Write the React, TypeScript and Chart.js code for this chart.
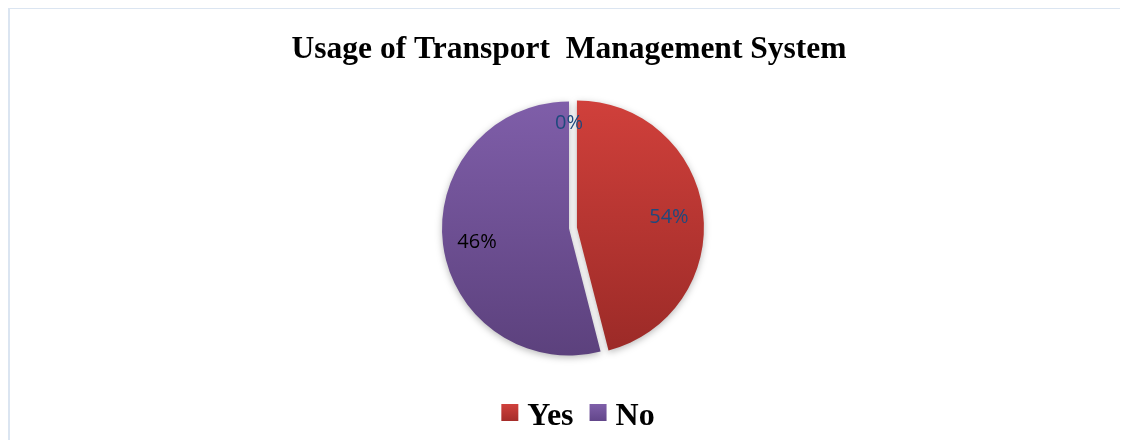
import React, { useEffect, useRef } from "react";
import { Chart, registerables } from "chart.js";

Chart.register(...registerables);

const categories = ["Yes", "No", ""];
const sliceValues = [46, 54, 0];
const dataLabels = ["54%", "46%", "0%"];
const labelColors = ["#1f497d", "#000000", "#1f497d"];
const colorsTop = ["#d0403b", "#7f5ea9", "#4f81bd"];
const colorsBottom = ["#9b2a27", "#5c417d", "#4f81bd"];
const legendTop = ["#d0413c", "#7f5fa9"];
const legendBottom = ["#a52d2a", "#62468a"];
const titleText = "Usage of Transport  Management System";

// styling: how far each slice is pulled out of the pie (px)
const EXPLODE = [8, 0, 0];
const PIE_RADIUS = 127;
const SERIF = '"Liberation Serif", "Times New Roman", serif';

const explodePlugin = {
  id: "explodedSlices",
  beforeDatasetDraw(chart: any, args: any) {
    const meta = args.meta;
    const ctx = chart.ctx;
    ctx.save();
    ctx.shadowColor = "rgba(0,0,0,0.28)";
    ctx.shadowBlur = 7;
    ctx.shadowOffsetX = 0;
    ctx.shadowOffsetY = 2;
    meta.data.forEach((arc: any, i: number) => {
      const p = arc.getProps(["startAngle", "endAngle"], true);
      const mid = (p.startAngle + p.endAngle) / 2;
      const e = EXPLODE[i] || 0;
      ctx.save();
      ctx.translate(Math.cos(mid) * e, Math.sin(mid) * e);
      arc.draw(ctx, chart.chartArea);
      ctx.restore();
    });
    ctx.restore();
    return false;
  },
};

const labelPlugin = {
  id: "sliceLabels",
  afterDatasetsDraw(chart: any) {
    const meta = chart.getDatasetMeta(0);
    const ctx = chart.ctx;
    ctx.save();
    ctx.font = '20px "Open Sans"';
    ctx.textAlign = "center";
    ctx.textBaseline = "middle";
    meta.data.forEach((arc: any, i: number) => {
      const p = arc.getProps(["x", "y", "startAngle", "endAngle", "outerRadius"], true);
      const mid = (p.startAngle + p.endAngle) / 2;
      const frac = sliceValues[i] === 0 ? 0.84 : 0.73;
      const d = (EXPLODE[i] || 0) + p.outerRadius * frac;
      ctx.fillStyle = labelColors[i];
      ctx.fillText(dataLabels[i], p.x + Math.cos(mid) * d, p.y + Math.sin(mid) * d + 2);
    });
    ctx.restore();
  },
};

const legendPlugin = {
  id: "customLegend",
  afterDraw(chart: any) {
    const ctx = chart.ctx;
    const area = chart.chartArea;
    const items = categories.map((t, i) => ({ t, i })).filter((it) => it.t !== "");
    const box = 17;
    const gap = 9;
    const itemGap = 16;
    ctx.save();
    ctx.font = `bold 32px ${SERIF}`;
    ctx.textBaseline = "alphabetic";
    ctx.textAlign = "left";
    const widths = items.map((it) => ctx.measureText(it.t).width);
    const total =
      widths.reduce((s, w) => s + box + gap + w, 0) + itemGap * (items.length - 1);
    const cx = (area.left + area.right) / 2 + 9;
    let x = cx - total / 2;
    const boxTop = area.bottom + 16;
    const baseline = area.bottom + 37;
    items.forEach((it, k) => {
      const g = ctx.createLinearGradient(0, boxTop, 0, boxTop + box);
      g.addColorStop(0, legendTop[it.i]);
      g.addColorStop(1, legendBottom[it.i]);
      ctx.fillStyle = g;
      ctx.fillRect(x, boxTop, box, box);
      x += box + gap;
      ctx.fillStyle = "#000000";
      ctx.fillText(it.t, x, baseline);
      x += widths[k] + itemGap;
    });
    ctx.restore();
  },
};

export default function App() {
  const ref = useRef<HTMLCanvasElement | null>(null);

  useEffect(() => {
    if (!ref.current) return;
    const chart = new Chart(ref.current, {
      type: "pie",
      data: {
        labels: categories,
        datasets: [
          {
            data: sliceValues,
            radius: PIE_RADIUS,
            borderWidth: 0,
            backgroundColor: (c: any) => {
              const chart = c.chart;
              const area = chart.chartArea;
              const i = c.dataIndex;
              if (!area) return colorsTop[i];
              const cy = (area.top + area.bottom) / 2;
              const g = chart.ctx.createLinearGradient(0, cy - PIE_RADIUS, 0, cy + PIE_RADIUS);
              g.addColorStop(0, colorsTop[i]);
              g.addColorStop(1, colorsBottom[i]);
              return g;
            },
          } as any,
        ],
      },
      options: {
        responsive: false,
        animation: false,
        devicePixelRatio: 1,
        layout: { padding: { left: 2, right: 0, top: 0, bottom: 52 } },
        plugins: {
          tooltip: { enabled: false },
          legend: { display: false },
          title: {
            display: true,
            text: titleText,
            color: "#000000",
            font: { family: SERIF, size: 31.5, weight: "bold" },
            padding: { top: 23, bottom: 0 },
          },
        },
      } as any,
      plugins: [explodePlugin, labelPlugin, legendPlugin],
    });
    return () => chart.destroy();
  }, []);

  return (
    <div style={{ position: "relative", width: 1120, height: 432 }}>
      <div
        style={{
          position: "absolute",
          left: 0,
          top: -1,
          width: 1120,
          height: 433,
          borderLeft: "2px solid #dbe5f1",
          borderTop: "2px solid #dbe5f1",
          boxSizing: "border-box",
        }}
      />
      <canvas
        ref={ref}
        width={1120}
        height={432}
        style={{ position: "absolute", left: 0, top: 0, width: 1120, height: 432 }}
      />
    </div>
  );
}
